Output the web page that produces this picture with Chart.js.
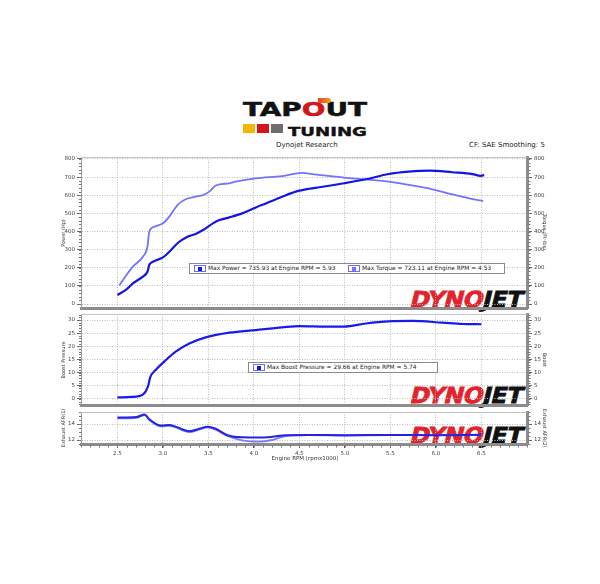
<!DOCTYPE html>
<html><head><meta charset="utf-8">
<script src="https://cdn.jsdelivr.net/npm/chart.js@4.4.1/dist/chart.umd.min.js"></script>
<style>
html,body{margin:0;padding:0;background:#fff;}
#wrap{position:relative;width:600px;height:584px;overflow:hidden;background:#fff;font-family:"DejaVu Sans",sans-serif;}
canvas{position:absolute;left:0;top:0;}
.abs{position:absolute;white-space:nowrap;}
.hdr{font-size:7px;color:#222;}
.tap{font-weight:bold;font-size:19px;line-height:19px;color:#111;display:inline-block;transform-origin:0 0;-webkit-text-stroke:0.5px #111;}
.tap .o{color:#d4151c;-webkit-text-stroke:0.5px #d4151c;}
.row2 i{position:absolute;top:0;width:12px;height:9px;}
.tun{font-weight:bold;font-size:13px;line-height:13px;color:#111;display:inline-block;transform-origin:0 0;-webkit-text-stroke:0.4px #111;}
.dj{font-weight:bold;font-size:22px;line-height:22px;letter-spacing:-0.5px;transform-origin:0 100%;display:inline-block;}
.dj .r{color:#e3222b;-webkit-text-stroke:0.8px #e3222b;} .dj .k{color:#111;-webkit-text-stroke:0.8px #111;}
.leg{position:absolute;border:1px solid #8a8a8a;background:#fff;box-sizing:border-box;}
.leg .it{position:absolute;top:0;font-size:5.9px;line-height:9px;color:#222;white-space:nowrap;}
.ico{position:absolute;top:1px;width:12px;height:7px;border:1px solid #6b6bff;box-sizing:border-box;background:#fff;}
.ico b{position:absolute;left:3px;top:0.5px;width:4px;height:4px;}
.at{position:absolute;font-size:5px;color:#333;white-space:nowrap;transform-origin:center center;}
</style></head>
<body><div id="wrap">
<!-- header -->
<div class="abs" id="tapRow" style="left:243px;top:100px;"><span class="tap" id="tap">TAP<span class="o">O</span>UT</span></div>
<div class="abs" style="left:318px;top:98px;width:13px;height:5px;border-radius:0 6px 6px 0;background:linear-gradient(90deg,#e8401c,#f7a21b);"></div>
<div class="abs row2" style="left:243px;top:124px;width:125px;height:10px;">
  <i style="left:0;background:#f2b705"></i><i style="left:14px;background:#d4151c"></i><i style="left:28px;background:#6e6e6e"></i>
</div>
<div class="abs" style="left:288px;top:121px;"><span class="tun" id="tun">TUNING</span></div>
<div class="abs hdr" style="left:276px;top:141px;">Dynojet Research</div>
<div class="abs hdr" style="left:469px;top:141px;">CF: SAE Smoothing: 5</div>

<!-- watermarks -->
<div class="abs" style="left:408px;top:289px;"><span class="dj"><span class="r">DYNO</span><span class="k">JET</span></span></div>
<div class="abs" style="left:408px;top:385px;"><span class="dj"><span class="r">DYNO</span><span class="k">JET</span></span></div>
<div class="abs" style="left:408px;top:425px;"><span class="dj"><span class="r">DYNO</span><span class="k">JET</span></span></div>

<canvas id="c1" width="600" height="584"></canvas>
<canvas id="c2" width="600" height="584"></canvas>
<canvas id="c3" width="600" height="584"></canvas>

<!-- legends -->
<div class="leg" style="left:189px;top:263px;width:316px;height:11px;">
  <span class="ico" style="left:4px;"><b style="background:#1414e6"></b></span>
  <span class="it" style="left:18px;">Max Power = 735.93 at Engine RPM = 5.93</span>
  <span class="ico" style="left:158px;"><b style="background:#7373ff"></b></span>
  <span class="it" style="left:172px;">Max Torque = 723.11 at Engine RPM = 4.53</span>
</div>
<div class="leg" style="left:248px;top:362px;width:190px;height:11px;">
  <span class="ico" style="left:4px;"><b style="background:#1414e6"></b></span>
  <span class="it" style="left:18px;">Max Boost Pressure = 29.66 at Engine RPM = 5.74</span>
</div>

<!-- axis titles -->
<div class="at" id="t1" style="left:63px;top:233px;">Power (Hp)</div>
<div class="at" id="t2" style="left:63px;top:360px;">Boost Pressure</div>
<div class="at" id="t3" style="left:63px;top:428px;">Exhaust AFR(1)</div>
<div class="at" id="t4" style="left:545px;top:232px;">Torque (Ft-lbs)</div>
<div class="at" id="t5" style="left:545px;top:360px;">Boost</div>
<div class="at" id="t6" style="left:545px;top:428px;">Exhaust AFR(2)</div>
<div class="abs" id="xt" style="font-size:5.5px;color:#333;left:305px;top:458px;">Engine RPM (rpmx1000)</div>
</div>
<script>
// ---------- data ----------
const rpmTicks = [2.5,3.0,3.5,4.0,4.5,5.0,5.5,6.0,6.5];
const rpmTickLabels = ['2.5','3.0','3.5','4.0','4.5','5.0','5.5','6.0','6.5'];
const powerTicks = [0,100,200,300,400,500,600,700,800];
const boostTicks = [0,5,10,15,20,25,30];
const afrTicks = [12,14];

const powerRpm = [2.50,2.60,2.67,2.78,2.83,2.85,2.89,3.00,3.09,3.16,3.27,3.36,3.44,3.55,3.62,3.73,3.87,4.02,4.13,4.31,4.46,4.61,4.72,4.99,5.23,5.48,5.70,5.93,6.18,6.40,6.49,6.53];
const power    = [50,81,114,151,178,215,233,257,298,335,371,386,408,445,463,478,500,533,555,592,620,636,644,666,688,717,730,736,727,717,707,711];

const torqueRpm = [2.52,2.60,2.67,2.78,2.83,2.85,2.91,3.00,3.07,3.16,3.25,3.36,3.44,3.51,3.58,3.73,3.80,4.02,4.31,4.53,4.64,4.99,5.23,5.48,5.70,5.96,6.18,6.40,6.52];
const torque    = [102,160,206,261,316,399,427,445,482,546,578,592,601,620,654,666,675,693,706,723,717,697,688,675,657,633,605,579,568];

const boostRpm = [2.50,2.74,2.81,2.84,2.86,2.92,3.02,3.14,3.29,3.47,3.73,4.02,4.31,4.50,4.79,4.99,5.23,5.48,5.74,6.07,6.29,6.50];
const boost    = [0.6,1.1,2.8,5.3,8.2,11.0,14.4,18.0,21.1,23.4,25.2,26.2,27.2,27.7,27.5,27.5,28.7,29.5,29.66,29.0,28.5,28.4];

const afrRpm = [2.50,2.71,2.80,2.85,2.98,3.07,3.14,3.29,3.40,3.49,3.58,3.71,3.87,4.06,4.20,4.35,4.60,5.00,5.50,6.00,6.50];
const afr1   = [14.8,14.87,15.2,14.6,13.8,13.87,13.67,13.1,13.4,13.67,13.4,12.6,12.33,12.3,12.4,12.6,12.62,12.6,12.62,12.6,12.65];
const afr2   = [14.7,14.78,15.1,14.5,13.7,13.78,13.57,13.0,13.3,13.57,13.3,12.5,11.95,11.8,12.0,12.5,12.6,12.55,12.6,12.62,12.6];

// ---------- helpers ----------
Chart.defaults.font.family = '"DejaVu Sans", sans-serif';
Chart.defaults.font.size = 5.5;
Chart.defaults.color = '#444';
const pts = (xs, ys) => xs.map((x, i) => ({x: x, y: ys[i]}));

const panelDeco = {
  id: 'panelDeco',
  afterDraw(chart, args, o) {
    const ctx = chart.ctx, a = chart.chartArea;
    ctx.save();
    ctx.strokeStyle = '#c4c4c4'; ctx.lineWidth = 1;
    ctx.beginPath(); ctx.moveTo(a.left, a.top + 0.5); ctx.lineTo(a.right, a.top + 0.5); ctx.stroke();
    ctx.strokeStyle = '#777';
    (o.minor || []).forEach(m => {
      const sc = chart.scales[m.axis];
      const n = Math.round((m.to - m.from) / m.step);
      for (let i = 0; i <= n; i++) {
        const v = m.from + i * m.step;
        const p = sc.getPixelForValue(v);
        ctx.beginPath();
        if (m.axis === 'x') { const yy = a.bottom + 1.5; ctx.moveTo(Math.round(p) + 0.5, yy); ctx.lineTo(Math.round(p) + 0.5, yy + 2); }
        else if (sc.position === 'left') { const pp = Math.round(p) + 0.5; ctx.moveTo(sc.right - 2, pp); ctx.lineTo(sc.right, pp); }
        else { const pp = Math.round(p) + 0.5; ctx.moveTo(sc.left + 1.5, pp); ctx.lineTo(sc.left + 3.5, pp); }
        ctx.stroke();
      }
    });
    ctx.restore();
  }
};

function makePanel(id, top, bottom, yMin, yMax, yTicks, showX, datasets, minor) {
  const xH = showX ? 30 : 0;
  return new Chart(document.getElementById(id), {
    type: 'line',
    data: { datasets: datasets },
    plugins: [panelDeco],
    options: {
      responsive: false, animation: false, devicePixelRatio: 1,
      layout: { padding: { top: top, bottom: 584 - bottom - xH, left: 0, right: 0 } },
      plugins: { legend: { display: false }, tooltip: { enabled: false }, panelDeco: { minor: minor } },
      elements: { point: { radius: 0 }, line: { tension: 0.35, cubicInterpolationMode: 'monotone' } },
      scales: {
        x: {
          type: 'linear', min: 2.1, max: 7.0,
          afterBuildTicks: s => { s.ticks = rpmTicks.map(v => ({value: v})); },
          afterFit: s => { s.height = xH; },
          ticks: { display: showX, autoSkip: false, maxRotation: 0, padding: 2, callback: (v, i) => rpmTickLabels[i] },
          grid: { color: '#bdbdbd', lineWidth: 1, drawTicks: showX, tickLength: 4, tickColor: '#555', tickBorderDash: [] },
          border: { display: true, width: 3, color: '#8c8c8c', dash: [1, 1.5] }
        },
        y: {
          position: 'left', min: yMin, max: yMax,
          afterBuildTicks: s => { s.ticks = yTicks.map(v => ({value: v})); },
          afterFit: s => { s.width = 81; },
          ticks: { autoSkip: false, padding: 2, callback: v => String(v) },
          grid: { color: '#bdbdbd', lineWidth: 1, tickLength: 4, tickColor: '#666', tickBorderDash: [] },
          border: { display: true, width: 1, color: '#9a9a9a', dash: [1, 1.5] }
        },
        y2: {
          position: 'right', min: yMin, max: yMax,
          afterBuildTicks: s => { s.ticks = yTicks.map(v => ({value: v})); },
          afterFit: s => { s.width = 73; },
          ticks: { autoSkip: false, padding: 2, callback: v => String(v) },
          grid: { drawOnChartArea: false, tickLength: 5, tickColor: '#666', tickBorderDash: [] },
          border: { display: true, width: 3, color: '#8c8c8c' }
        }
      }
    }
  });
}

makePanel('c1', 157, 308, -22, 811, powerTicks, false, [
  { data: pts(powerRpm, power), borderColor: '#1414e6', borderWidth: 2.2, yAxisID: 'y', order: 1 },
  { data: pts(torqueRpm, torque), borderColor: '#7373ff', borderWidth: 1.8, yAxisID: 'y2', order: 2 }
], [{axis: 'y', from: 0, to: 800, step: 20}, {axis: 'y2', from: 0, to: 800, step: 20}]);

makePanel('c2', 314, 405, -2.3, 32.3, boostTicks, false, [
  { data: pts(boostRpm, boost), borderColor: '#1a1aef', borderWidth: 2.2, yAxisID: 'y' }
], [{axis: 'y', from: -2, to: 32, step: 1}, {axis: 'y2', from: -2, to: 32, step: 1}]);

makePanel('c3', 412, 444, 11.5, 15.5, afrTicks, true, [
  { data: pts(afrRpm, afr1), borderColor: '#2424e0', borderWidth: 2, yAxisID: 'y', order: 1 },
  { data: pts(afrRpm, afr2), borderColor: '#7a7aff', borderWidth: 1.8, yAxisID: 'y', order: 2 }
], [{axis: 'y', from: 11.5, to: 15.5, step: 0.5}, {axis: 'y2', from: 11.5, to: 15.5, step: 0.5}, {axis: 'x', from: 2.1, to: 7.0, step: 0.1}]);

// ---------- text fitting ----------
function fitW(el, w, extra) { const r = el.getBoundingClientRect(); el.style.transform = (extra || '') + ' scaleX(' + (w / r.width) + ')'; }
fitW(document.getElementById('tap'), 124);
fitW(document.getElementById('tun'), 79);
document.querySelectorAll('.dj').forEach(e => fitW(e, 112, 'skewX(-14deg)'));
function place(id, rot) {
  const el = document.getElementById(id); const r = el.getBoundingClientRect();
  const cx = parseFloat(el.style.left), cy = parseFloat(el.style.top);
  el.style.left = (cx - r.width / 2) + 'px'; el.style.top = (cy - r.height / 2) + 'px';
  if (rot) el.style.transform = 'rotate(' + rot + 'deg)';
}
place('t1', -90); place('t2', -90); place('t3', -90);
place('t4', 90); place('t5', 90); place('t6', 90);
place('xt', 0);
</script>
</body></html>
